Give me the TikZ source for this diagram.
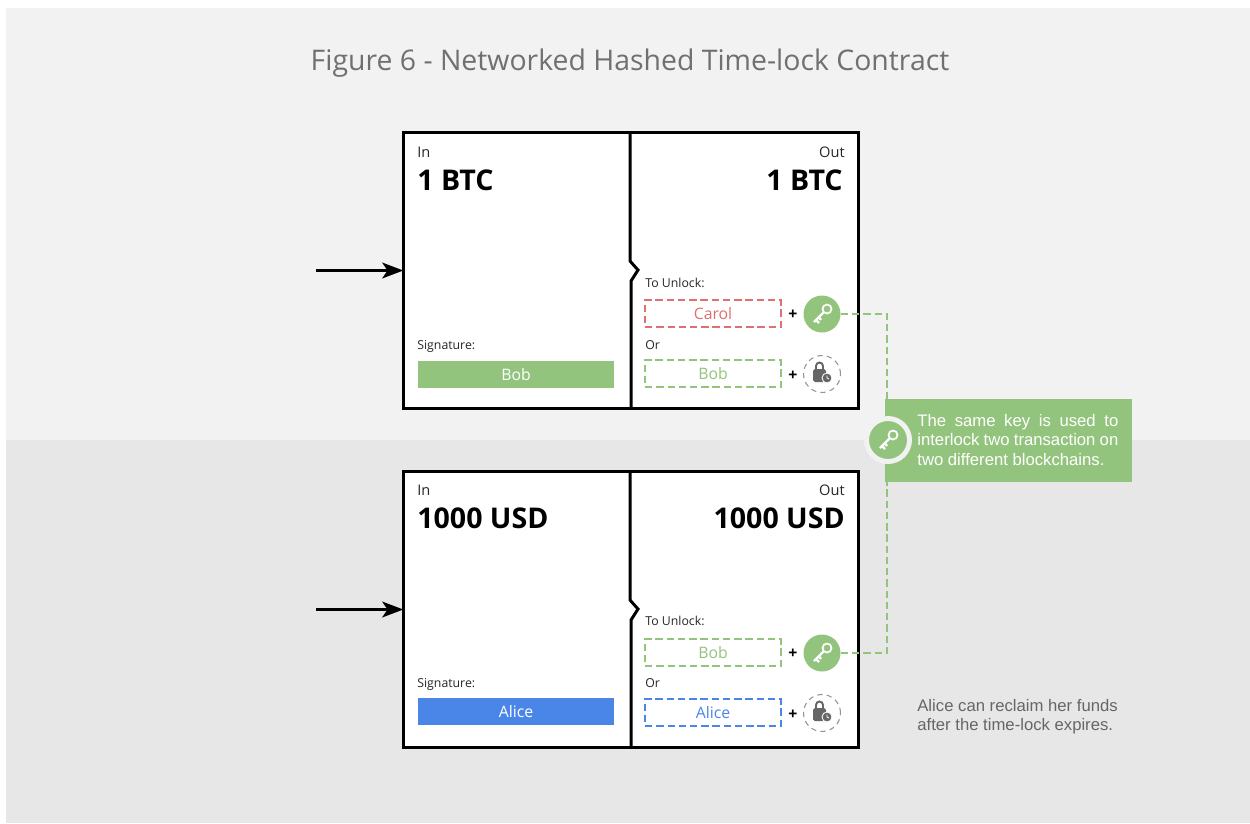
\documentclass[tikz,border=0pt]{standalone}
\usepackage{fontspec}
\setmainfont{Open Sans}
\newfontfamily\callfont{Liberation Sans}
\usetikzlibrary{arrows.meta,positioning}
\definecolor{panelA}{HTML}{F2F2F2}
\definecolor{panelB}{HTML}{E7E7E7}
\definecolor{keygreen}{HTML}{93C47D}
\definecolor{carolred}{HTML}{E06F72}
\definecolor{aliceblue}{HTML}{4A86E8}
\definecolor{titlegray}{HTML}{707070}
\definecolor{iconGray}{HTML}{666666}
\tikzset{
  txbox/.style={draw=black,fill=white,line width=1.7pt,minimum width=9.12cm,minimum height=5.54cm,inner sep=0pt},
  small/.style={font=\fontsize{7}{9}\selectfont,text=black!85,inner sep=0pt},
  tiny head/.style={font=\fontsize{8.3}{10}\selectfont},
  amount/.style={font=\fontsize{16.25}{19}\selectfont\bfseries,inner sep=0pt},
  condbox/.style={draw=#1,text=#1,dashed,dash pattern=on 4.2pt off 2.2pt,line width=0.7pt,minimum width=2.72cm,minimum height=0.54cm,inner sep=0pt,font=\fontsize{9}{11}\selectfont},
  sigbox/.style={fill=#1,text=white,minimum width=3.94cm,minimum height=0.54cm,inner sep=0pt,font=\fontsize{9}{11}\selectfont},
  keydisc/.style={circle,fill=keygreen,minimum size=0.74cm,inner sep=0pt},
  lockdisc/.style={circle,draw=iconGray!70,dashed,dash pattern=on 3pt off 2.4pt,line width=0.6pt,minimum size=0.74cm,inner sep=0pt},
  plus/.style={font=\fontsize{9}{11}\selectfont\bfseries,inner sep=0pt},
  link/.style={draw=keygreen,dashed,dash pattern=on 4.2pt off 2.2pt,line width=0.7pt},
  feed/.style={-{Stealth[length=12pt,width=9pt,inset=3pt]},line width=1.4pt,shorten >=-1pt},
  keyicon/.pic={
    \draw[white,line width=1pt] (5,-5) circle (4.5);
    \draw[white,line width=1.3pt] (2,-2) -- (-8,8) (-6,6) -- (-3,9) (-3,3) -- (-1,6);
  },
  lockicon/.pic={
    \draw[iconGray,line width=1.1pt] (-6,-5) -- (-6,-8) arc (180:360:3.5) -- (1,-5);
    \fill[iconGray,rounded corners=1pt] (-9,-5) rectangle (4,8);
    \fill[iconGray,draw=white,line width=0.5pt] (5,4) circle (5);
    \draw[white,line width=0.4pt] (5,1.5) -- (5,4) -- (7,5);
  },
}
\begin{document}
\begin{tikzpicture}[x=0.02cm,y=-0.02cm]
  \useasboundingbox (0,0) rectangle (1250,823);
  \fill[panelA] (6,8) rectangle (1250,440);
  \fill[panelB] (6,440) rectangle (1250,823);
  \node[text=titlegray,font=\fontsize{16.17}{20}\selectfont,inner sep=0pt] (title) at (630,63) {Figure 6 - Networked Hashed Time-lock Contract};

  % upper transaction
  \node[txbox] (txa) at (631,270.5) {};
  \draw[line width=1.7pt] (630,132) -- (630,261) -- (638,270) -- (631,281) -- (631,409);
  \coordinate (feeda) at (316,270.5);
  \draw[feed] (feeda) -- (txa);
  \node[small,tiny head,anchor=west] (ina) at (417,152) {In};
  \node[small,tiny head,anchor=east] (outa) at (845,152) {Out};
  \node[amount,anchor=west] (amtina) at (417,180) {1 BTC};
  \node[amount,anchor=east] (amtouta) at (843,180) {1 BTC};
  \node[small,anchor=west] (siglabela) at (417,346) {Signature:};
  \node[sigbox=keygreen] (siga) at (516,374.5) {Bob};
  \node[small,anchor=west] (unlocka) at (645,283) {To Unlock:};
  \node[condbox=carolred] (carol) at (713,313.5) {Carol};
  \node[plus] (plusa) at (793,314.5) {+};
  \node[keydisc] (keya) at (822,314) {};
  \pic at (keya) {keyicon};
  \node[small,anchor=west] (ora) at (645,345) {Or};
  \node[condbox=keygreen] (boba) at (713,373.5) {Bob};
  \node[plus] (plusb) at (793,375.5) {+};
  \node[lockdisc] (locka) at (822,374) {};
  \pic at (locka) {lockicon};

  % lower transaction
  \node[txbox] (txb) at (631,609.5) {};
  \draw[line width=1.7pt] (630,471) -- (630,600) -- (638,609) -- (631,620) -- (631,748);
  \coordinate (feedb) at (316,609.5);
  \draw[feed] (feedb) -- (txb);
  \node[small,tiny head,anchor=west] (inb) at (417,490) {In};
  \node[small,tiny head,anchor=east] (outb) at (845,490) {Out};
  \node[amount,anchor=west] (amtinb) at (417,518) {1000 USD};
  \node[amount,anchor=east] (amtoutb) at (845,518) {1000 USD};
  \node[small,anchor=west] (siglabelb) at (417,684) {Signature:};
  \node[sigbox=aliceblue] (sigb) at (516,711.5) {Alice};
  \node[small,anchor=west] (unlockb) at (645,621) {To Unlock:};
  \node[condbox=keygreen] (bobb) at (713,652.5) {Bob};
  \node[plus] (plusc) at (793,653.5) {+};
  \node[keydisc] (keyb) at (822,653) {};
  \pic at (keyb) {keyicon};
  \node[small,anchor=west] (orb) at (645,683) {Or};
  \node[condbox=aliceblue] (alice) at (713,712.5) {Alice};
  \node[plus] (plusd) at (793,714.5) {+};
  \node[lockdisc] (lockb) at (822,713) {};
  \pic at (lockb) {lockicon};

  % shared key note
  \node[fill=keygreen,minimum width=4.94cm,minimum height=1.66cm,inner sep=0pt] (note) at (1008.5,440.5) {};
  \node[anchor=west,text=white,text width=4.02cm,align=justify,inner sep=0pt,font=\callfont\fontsize{9.5}{11.3}\selectfont] (notetext) at (917,440) {The same key is used to \mbox{interlock} two transaction on two different blockchains.};
  \node[keydisc,minimum size=0.86cm,draw=panelA,line width=2.8pt] (keyc) at (888,440) {};
  \pic at (keyc) {keyicon};
  \coordinate (notetop) at (887,399);
  \coordinate (notebot) at (887,482);
  \draw[link] (keya) -| (notetop);
  \draw[link] (keyb) -| (notebot);
  \node[anchor=north west,text=iconGray,align=left,inner sep=0pt,font=\callfont\fontsize{9.5}{11}\selectfont] (reclaim) at (917,699) {Alice can reclaim her funds\\after the time-lock expires.};
\end{tikzpicture}
\end{document}
